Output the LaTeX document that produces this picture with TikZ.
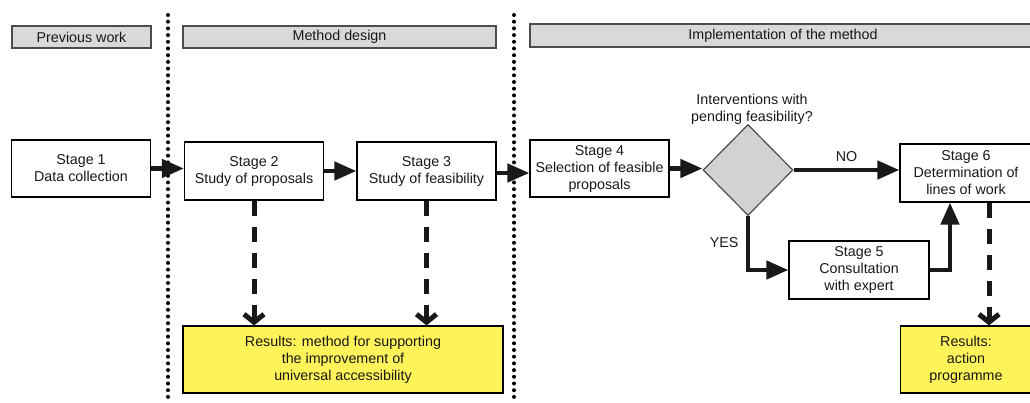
\documentclass[tikz,border=0pt]{standalone}
\usepackage{fontspec}
\setmainfont{Liberation Sans}
\usetikzlibrary{arrows.meta,shapes.geometric}
\definecolor{headgray}{RGB}{217,217,217}
\definecolor{diagray}{RGB}{210,210,210}
\definecolor{resyellow}{RGB}{255,243,90}
\begin{document}
\begin{tikzpicture}[
  x=1pt, y=-1pt,
  every node/.style = {align=center, text=black!90,
    font=\fontsize{14.3}{17}\selectfont},
  stagebox/.style = {shape=rectangle, draw, line width=1.2pt,
    fill=white, minimum width=139pt, minimum height=58pt, inner sep=0pt},
  headbox/.style = {shape=rectangle, draw=black!70, line width=1.2pt,
    fill=headgray, minimum height=22pt, inner sep=0pt},
  resbox/.style = {stagebox, fill=resyellow, minimum height=67pt},
  decision/.style = {shape=diamond, draw=black!70, line width=1.2pt,
    fill=diagray, minimum width=90pt, minimum height=91pt, inner sep=0pt},
  flow/.style = {line width=4.5pt, draw=black!90,
    -{Triangle[length=22pt,width=18pt]}},
  result/.style = {line width=5pt, draw=black!90,
    dash pattern=on 15pt off 11pt,
    -{Straight Barb[length=8pt,width=20pt,line width=5pt]}},
  phase/.style = {line width=4pt, line cap=round,
    dash pattern=on 0pt off 6.7pt}
  ]
  \useasboundingbox (0,0) rectangle (1030,403);

  % phase separators
  \draw[phase] (168,15) -- (168,400);
  \draw[phase] (514,15) -- (514,400);

  % phase headers
  \node[headbox, minimum width=139pt] (prev) at (81.5,37) {Previous work};
  \node[headbox, minimum width=313pt] (design) at (339.5,37) {Method design};
  \node[headbox, minimum width=506pt, minimum height=23pt] (impl) at (783,35.5)
    {Implementation of the method};

  % stages
  \node[stagebox, minimum height=57pt] (s1) at (81,168.5) {Stage 1\\Data collection};
  \node[stagebox] (s2) at (254,171) {Stage 2\\Study of proposals};
  \node[stagebox] (s3) at (426.5,171) {Stage 3\\Study of feasibility};
  \node[stagebox, minimum height=57pt] (s4) at (599.5,168.5)
    {Stage 4\\Selection of feasible\\proposals};
  \node[decision] (dec) at (748,170) {};
  \node (ask) at (752,109) {Interventions with\\pending feasibility?};
  \node[stagebox, minimum width=140pt] (s5) at (859,270)
    {Stage 5\\Consultation\\with expert};
  \node[stagebox, minimum width=132pt] (s6) at (966,173)
    {Stage 6\\Determination of\\lines of work};

  % results
  \node[resbox, minimum width=320pt] (res1) at (343,359.5)
    {Results: method for supporting\\the improvement of\\universal accessibility};
  \node[resbox, minimum width=131pt] (res2) at (966,359.5)
    {Results:\\action\\programme};

  % main flow
  \draw[flow] (s1.east) -- (s1.east -| s2.west);
  \draw[flow] (s2.east) -- (s3.west);
  \draw[flow] ([yshift=-2pt]s3.east) -- ([yshift=-2pt]s3.east -| s4.west);
  \draw[flow] (s4.east) -- (s4.east -| dec.west);
  \draw[flow] (dec.east) -- node[above=3pt] {NO} (dec.east -| s6.west);
  \draw[flow] (dec.south) |- node[pos=0.25, left=4pt] {YES} (s5.west);
  \draw[flow] (s5.east) -| ([xshift=-16pt]s6.south);

  % results links
  \draw[result] (s2.south) -- (s2.south |- res1.north);
  \draw[result] (s3.south) -- (s3.south |- res1.north);
  \draw[result] ([xshift=23pt]s6.south) -- ([xshift=23pt]s6.south |- res2.north);
\end{tikzpicture}
\end{document}
